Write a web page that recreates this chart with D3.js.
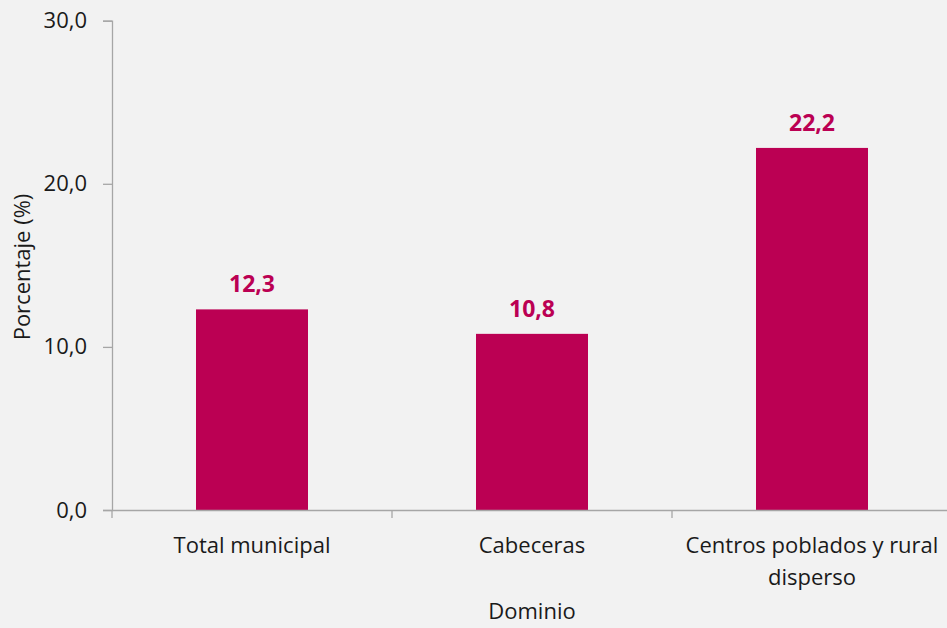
<!DOCTYPE html>
<html><head><meta charset="utf-8">
<script src="https://cdn.jsdelivr.net/npm/d3@7"></script>
<style>body{margin:0;background:#f2f2f2;}svg{display:block;font-family:"Open Sans",sans-serif;}</style>
</head><body>
<script>
const categories = ["Total municipal", "Cabeceras", "Centros poblados y rural disperso"];
const values = [12.3, 10.8, 22.2];
const yTicks = [0, 10, 20, 30];

const W = 947, H = 628;
const svg = d3.select("body").append("svg").attr("width", W).attr("height", H);
svg.append("rect").attr("width", W).attr("height", H).attr("fill", "#f2f2f2");

const x0 = 112, yTop = 20.7, yBot = 510;
const x = d3.scaleBand().domain(categories).range([x0, x0 + 280 * 3]).paddingInner(0).paddingOuter(0);
const y = d3.scaleLinear().domain([0, 30]).range([yBot, yTop]);
const fmt = d => d.toFixed(1).replace(".", ",");
const barW = 112;
const color = "#bb0053";
const fs = 22;

// bars
svg.selectAll("rect.bar").data(values).enter().append("rect")
  .attr("class", "bar")
  .attr("x", (d, i) => x(categories[i]) + x.bandwidth() / 2 - barW / 2)
  .attr("width", barW)
  .attr("y", d => y(d))
  .attr("height", d => y(0) - y(d))
  .attr("fill", color);

// labels
svg.selectAll("text.val").data(values).enter().append("text")
  .attr("x", (d, i) => x(categories[i]) + x.bandwidth() / 2)
  .attr("y", d => y(d) - 17)
  .attr("text-anchor", "middle")
  .attr("font-weight", "bold")
  .attr("font-size", 23)
  .attr("fill", color)
  .text(d => fmt(d));

const axisColor = "#a6a6a6";
// y axis
const yAxis = svg.append("g").attr("transform", `translate(${x0},0)`)
  .call(d3.axisLeft(y).tickValues(yTicks).tickFormat(fmt).tickSize(9).tickPadding(16));
yAxis.select(".domain").attr("stroke", axisColor).attr("stroke-width", 1.3);
yAxis.selectAll(".tick line").attr("stroke", axisColor).attr("stroke-width", 1.3);
yAxis.selectAll(".tick text").attr("font-size", fs).attr("fill", "#1a1a1a").attr("font-family", "Open Sans");

// x axis
const xAxis = svg.append("g").attr("transform", `translate(0,${yBot})`)
  .call(d3.axisBottom(x).tickSize(0).tickPadding(0));
xAxis.select(".domain").attr("stroke", axisColor).attr("stroke-width", 1.3);
xAxis.selectAll(".tick text").remove();
// category boundary ticks
const bounds = categories.map(c => x(c));
xAxis.selectAll("line.sep").data(bounds).enter().append("line")
  .attr("x1", d => d).attr("x2", d => d).attr("y1", 0).attr("y2", 8)
  .attr("stroke", axisColor).attr("stroke-width", 1.3);

// category labels (wrapped)
const catLines = [["Total municipal"], ["Cabeceras"], ["Centros poblados y rural", "disperso"]];
categories.forEach((c, i) => {
  const t = svg.append("text")
    .attr("x", x(c) + x.bandwidth() / 2)
    .attr("y", 553)
    .attr("text-anchor", "middle")
    .attr("font-size", fs)
    .attr("fill", "#1a1a1a");
  catLines[i].forEach((ln, j) => {
    t.append("tspan").attr("x", x(c) + x.bandwidth() / 2).attr("dy", j === 0 ? 0 : 32).text(ln);
  });
});

// axis titles
svg.append("text").attr("x", 532).attr("y", 619).attr("text-anchor", "middle")
  .attr("font-size", fs).attr("fill", "#1a1a1a").text("Dominio");
svg.append("text").attr("transform", "translate(30,267) rotate(-90)").attr("text-anchor", "middle")
  .attr("font-size", fs).attr("fill", "#1a1a1a").text("Porcentaje (%)");
</script>
</body></html>
